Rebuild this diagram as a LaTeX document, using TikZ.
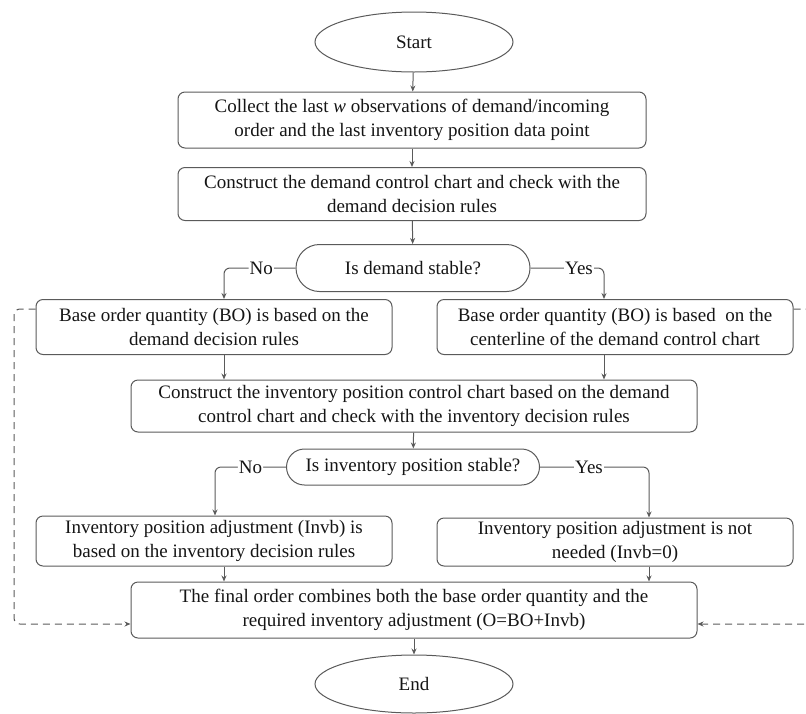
\documentclass[tikz,border=0pt]{standalone}
\usepackage{fontspec}
\setmainfont{Liberation Serif}
\usepackage{xcolor}
\usetikzlibrary{shapes.geometric,shapes.misc,arrows.meta}

\definecolor{linegray}{HTML}{5A5A5A}
\definecolor{textgray}{HTML}{151515}

\begin{document}
\begin{tikzpicture}[x=1pt,y=-1pt,line width=1pt,
	font=\fontsize{19}{24}\selectfont,text=textgray,
	box/.style={draw=linegray,rounded corners=7pt,align=center,inner sep=0pt},
	terminal/.style={draw=linegray,ellipse,minimum width=198pt,minimum height=60pt,inner sep=0pt},
	decision/.style={draw=linegray,rounded rectangle,align=center,inner sep=0pt},
	arrow/.style={draw=linegray,-{Stealth[length=6pt,width=5pt]}},
	loopback/.style={draw=linegray,dash pattern=on 7pt off 5pt,rounded corners=6pt,-{Stealth[length=6pt,width=5pt]}},
	answer/.style={fill=white,inner sep=1pt}]
	\useasboundingbox (0,0) rectangle (806,713);
	
	\node[terminal] (start) at (414,42) {Start};
	\node[box,minimum width=468pt,minimum height=56pt] (collect) at (412,120)
		{Collect the last \textit{w} observations of demand/incoming\\order and the last inventory position data point};
	\node[box,minimum width=468pt,minimum height=53pt] (demchart) at (412,194)
		{Construct the demand control chart and check with the\\demand decision rules};
	\node[decision,minimum width=234pt,minimum height=47pt] (demstable) at (413,268) {Is demand stable?};
	
	\node[box,minimum width=356pt,minimum height=55pt] (boleft) at (214,327)
		{Base order quantity (BO) is based on the\\demand decision rules};
	\node[box,minimum width=356pt,minimum height=55pt] (boright) at (615,327)
		{Base order quantity (BO) is based \ on the\\centerline of the demand control chart};
	
	\node[box,minimum width=566pt,minimum height=52pt] (invchart) at (414,406)
		{Construct the inventory position control chart based on the demand\\control chart and check with the inventory decision rules};
	\node[decision,minimum width=253pt,minimum height=36pt] (invstable) at (413,467) {Is inventory position stable?};
	
	\node[box,minimum width=356pt,minimum height=50pt] (invleft) at (214,541)
		{Inventory position adjustment (Invb) is\\based on the inventory decision rules};
	\node[box,minimum width=356pt,minimum height=48pt] (invright) at (615,542)
		{Inventory position adjustment is not\\needed (Invb=0)};
	
	\node[box,minimum width=566pt,minimum height=56pt] (final) at (414,610)
		{The final order combines both the base order quantity and the\\required inventory adjustment (O=BO+Invb)};
	\node[terminal,minimum height=58pt] (end) at (414,684) {End};
	
	% columns of the side branches
	\coordinate (lcol) at (224,0);
	\coordinate (rcol) at (604,0);
	\coordinate (lcolb) at (215,0);
	\coordinate (rcolb) at (649,0);
	
	\draw[arrow] (start) -- (collect);
	\draw[arrow] (collect) -- (demchart);
	\draw[arrow] (demchart) -- (demstable);
	\draw[arrow,rounded corners=6pt] (demstable.west) -- node[answer,pos=0.48]{No} (lcol |- demstable.west) -- (lcol |- boleft.north);
	\draw[arrow,rounded corners=6pt] (demstable.east) -- node[answer,pos=0.66]{Yes} (rcol |- demstable.east) -- (rcol |- boright.north);
	\draw[arrow] (lcol |- boleft.south) -- (lcol |- invchart.north);
	\draw[arrow] (rcol |- boright.south) -- (rcol |- invchart.north);
	\draw[arrow] (invchart) -- (invstable);
	\draw[arrow,rounded corners=6pt] (invstable.west) -- node[answer,pos=0.5]{No} (lcolb |- invstable.west) -- (lcolb |- invleft.north);
	\draw[arrow,rounded corners=6pt] (invstable.east) -- node[answer,pos=0.45]{Yes} (rcolb |- invstable.east) -- (rcolb |- invright.north);
	\draw[arrow] (lcol |- invleft.south) -- (lcol |- final.north);
	\draw[arrow] (rcolb |- invright.south) -- (rcolb |- final.north);
	\draw[arrow] (final) -- (end);
	
	% dashed feedback lines
	\draw[loopback] ([yshift=18pt]boleft.west) -- (14,309) -- (14,624) -- ([yshift=-14pt]final.west);
	\draw[loopback] ([yshift=18pt]boright.east) -- (818,309) -- (818,624) -- ([yshift=-14pt]final.east);
\end{tikzpicture}
\end{document}
